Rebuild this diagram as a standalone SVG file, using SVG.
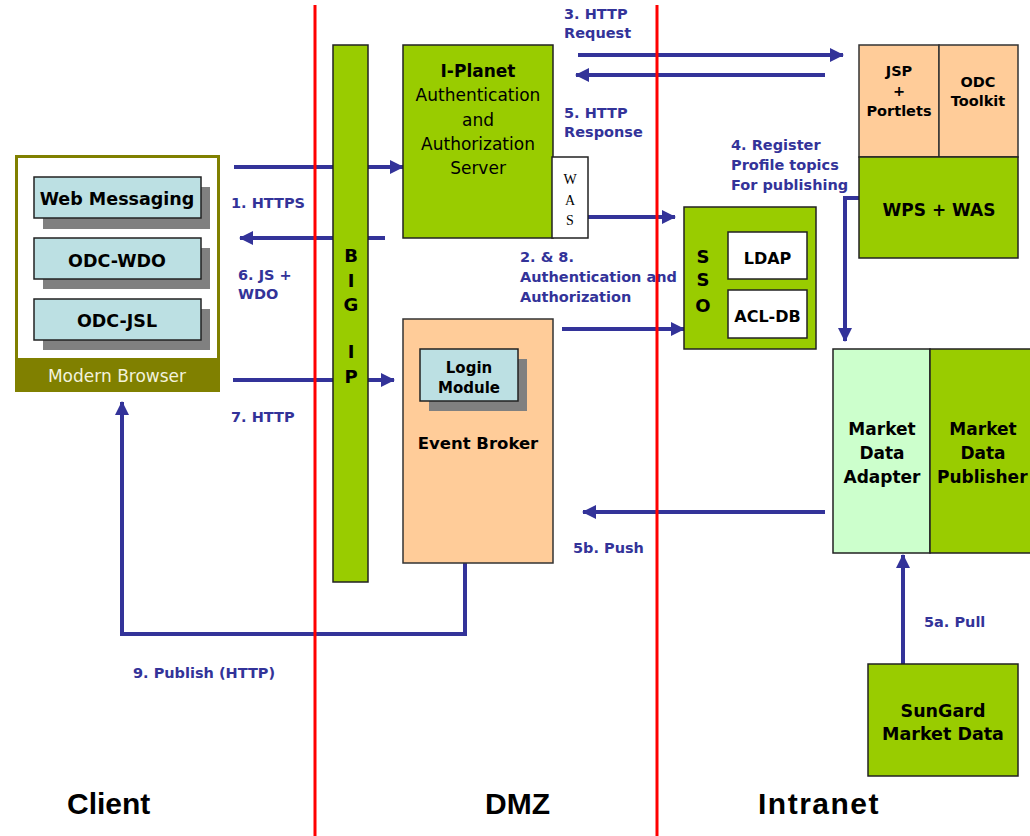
<svg xmlns="http://www.w3.org/2000/svg" width="1030" height="836" viewBox="0 0 1030 836">
<style>
.g{fill:#99cc00;stroke:#222;stroke-width:1.5}
.p{fill:#ffcc99;stroke:#333;stroke-width:1.5}
.c{fill:#bce0e3;stroke:#222;stroke-width:1.5}
.w{fill:#fff;stroke:#222;stroke-width:1.5}
.sh{fill:#808080}
.t{font-family:"DejaVu Sans",Verdana,sans-serif;fill:#000;text-anchor:middle}
.b{font-weight:bold}
.lb{font-family:"DejaVu Sans",Verdana,sans-serif;font-weight:bold;font-size:14.5px;fill:#333399}
.cn{fill:none;stroke:#333399;stroke-width:4}
.red{stroke:#ff0000;stroke-width:3}
.zone{font-family:"Liberation Sans",Arial,sans-serif;font-weight:bold;font-size:30px;fill:#000}
</style>
<defs>
<marker id="ah" markerUnits="userSpaceOnUse" markerWidth="14" markerHeight="14" refX="13" refY="7" orient="auto">
<path d="M0,0 L14,7 L0,14 z" fill="#333399"/>
</marker>
</defs>
<rect width="1030" height="836" fill="#fff"/>

<g id="connectors">
<line class="cn" x1="234" y1="167" x2="403" y2="167" marker-end="url(#ah)"/>
<line class="cn" x1="385" y1="238" x2="240" y2="238" marker-end="url(#ah)"/>
<line class="cn" x1="233" y1="380" x2="394" y2="380" marker-end="url(#ah)"/>
<line class="cn" x1="578" y1="55" x2="843" y2="55" marker-end="url(#ah)"/>
<line class="cn" x1="825" y1="75" x2="576" y2="75" marker-end="url(#ah)"/>
<line class="cn" x1="588" y1="217" x2="675" y2="217" marker-end="url(#ah)"/>
<line class="cn" x1="562" y1="329" x2="684" y2="329" marker-end="url(#ah)"/>
<polyline class="cn" points="860,198 845,198 845,341" marker-end="url(#ah)"/>
<line class="cn" x1="825" y1="512" x2="583" y2="512" marker-end="url(#ah)"/>
<line class="cn" x1="903" y1="665" x2="903" y2="555" marker-end="url(#ah)"/>
<polyline class="cn" points="465,563 465,634 122,634 122,402" marker-end="url(#ah)"/>
</g>

<g id="labels">
<text class="lb" x="564" y="19">3. HTTP</text>
<text class="lb" x="564" y="38">Request</text>
<text class="lb" x="564" y="118">5. HTTP</text>
<text class="lb" x="564" y="137">Response</text>
<text class="lb" x="731" y="150">4. Register</text>
<text class="lb" x="731" y="170">Profile topics</text>
<text class="lb" x="731" y="190">For publishing</text>
<text class="lb" x="231" y="208">1. HTTPS</text>
<text class="lb" x="238" y="280">6. JS +</text>
<text class="lb" x="238" y="299">WDO</text>
<text class="lb" x="520" y="262">2. &amp; 8.</text>
<text class="lb" x="520" y="282">Authentication and</text>
<text class="lb" x="520" y="302">Authorization</text>
<text class="lb" x="231" y="422">7. HTTP</text>
<text class="lb" x="573" y="553">5b. Push</text>
<text class="lb" x="924" y="627">5a. Pull</text>
<text class="lb" x="133" y="678">9. Publish (HTTP)</text>
</g>

<g id="browser">
<rect x="16.5" y="156.5" width="202" height="234" fill="#fff" stroke="#808000" stroke-width="3"/>
<rect x="15" y="358" width="205" height="34" fill="#808000"/>
<text class="t" x="117" y="382" font-size="17" fill="#f0f0d8" style="fill:#f2f2dc">Modern Browser</text>
</g>
<g id="web-messaging">
<rect class="sh" x="43" y="187" width="167" height="42"/>
<rect class="c" x="34" y="177" width="167" height="41"/>
<text class="t b" x="117" y="205" font-size="17.5">Web Messaging</text>
</g>
<g id="odc-wdo">
<rect class="sh" x="43" y="248" width="167" height="41"/>
<rect class="c" x="34" y="238" width="167" height="41"/>
<text class="t b" x="117" y="267" font-size="17.5">ODC-WDO</text>
</g>
<g id="odc-jsl">
<rect class="sh" x="43" y="309" width="167" height="41"/>
<rect class="c" x="34" y="299" width="167" height="41"/>
<text class="t b" x="117" y="327" font-size="17.5">ODC-JSL</text>
</g>

<g id="big-ip">
<rect class="g" x="333" y="45" width="35" height="537"/>
<text class="t b" x="351" y="262" font-size="18">B</text>
<text class="t b" x="351" y="287" font-size="18">I</text>
<text class="t b" x="351" y="311" font-size="18">G</text>
<text class="t b" x="351" y="358" font-size="18">I</text>
<text class="t b" x="351" y="383" font-size="18">P</text>
</g>

<g id="i-planet">
<rect class="g" x="403" y="45" width="150" height="193"/>
<text class="t b" x="478" y="77" font-size="17">I-Planet</text>
<text class="t" x="478" y="101" font-size="17">Authentication</text>
<text class="t" x="478" y="126" font-size="17">and</text>
<text class="t" x="478" y="150" font-size="17">Authorization</text>
<text class="t" x="478" y="174" font-size="17">Server</text>
</g>
<g id="was">
<rect class="w" x="552" y="157" width="36" height="81"/>
<text x="570" y="184" font-family="'Liberation Serif','Times New Roman',serif" font-size="14" text-anchor="middle">W</text>
<text x="570" y="205" font-family="'Liberation Serif','Times New Roman',serif" font-size="14" text-anchor="middle">A</text>
<text x="570" y="225" font-family="'Liberation Serif','Times New Roman',serif" font-size="14" text-anchor="middle">S</text>
</g>

<g id="event-broker">
<rect class="p" x="403" y="319" width="150" height="244"/>
<text class="t b" x="478" y="449" font-size="16.5">Event Broker</text>
</g>
<g id="login-module">
<rect class="sh" x="429" y="359" width="98" height="52"/>
<rect class="c" x="420" y="349" width="98" height="52"/>
<text class="t b" x="469" y="373" font-size="15">Login</text>
<text class="t b" x="469" y="393" font-size="15">Module</text>
</g>

<g id="sso">
<rect class="g" x="684" y="207" width="132" height="142"/>
<text class="t b" x="703" y="263" font-size="18">S</text>
<text class="t b" x="703" y="286" font-size="18">S</text>
<text class="t b" x="703" y="312" font-size="18">O</text>
</g>
<g id="ldap">
<rect class="w" x="728" y="232" width="79" height="47"/>
<text class="t b" x="767.5" y="264" font-size="16">LDAP</text>
</g>
<g id="acl-db">
<rect class="w" x="728" y="290" width="79" height="48"/>
<text class="t b" x="767.5" y="322" font-size="16">ACL-DB</text>
</g>

<g id="jsp-portlets">
<rect class="p" x="859" y="45" width="80" height="112"/>
<text class="t b" x="899" y="76" font-size="14.5">JSP</text>
<text class="t b" x="899" y="96" font-size="14.5">+</text>
<text class="t b" x="899" y="116" font-size="14.5">Portlets</text>
</g>
<g id="odc-toolkit">
<rect class="p" x="939" y="45" width="79" height="112"/>
<text class="t b" x="978" y="87" font-size="14.5">ODC</text>
<text class="t b" x="978" y="106" font-size="14.5">Toolkit</text>
</g>
<g id="wps-was">
<rect class="g" x="859" y="157" width="159" height="101"/>
<text class="t b" x="939" y="216" font-size="17">WPS + WAS</text>
</g>

<g id="market-data-adapter">
<rect x="833" y="349" width="97" height="204" fill="#ccffcc" stroke="#222" stroke-width="1.5"/>
<text class="t b" x="882" y="435" font-size="17">Market</text>
<text class="t b" x="882" y="459" font-size="17">Data</text>
<text class="t b" x="882" y="483" font-size="17">Adapter</text>
</g>
<g id="market-data-publisher">
<rect class="g" x="930" y="349" width="105" height="204"/>
<text class="t b" x="983" y="435" font-size="17">Market</text>
<text class="t b" x="983" y="459" font-size="17">Data</text>
<text class="t b" x="937" y="483" font-size="17" text-anchor="start" style="text-anchor:start">Publisher</text>
</g>

<g id="sungard">
<rect class="g" x="868" y="664" width="150" height="112"/>
<text class="t b" x="943" y="717" font-size="17.5">SunGard</text>
<text class="t b" x="943" y="740" font-size="17.5">Market Data</text>
</g>

<g id="zones">
<line class="red" x1="315" y1="5" x2="315" y2="836"/>
<line class="red" x1="657" y1="5" x2="657" y2="836"/>
<text class="zone" x="67" y="814">Client</text>
<text class="zone" x="485" y="814">DMZ</text>
<text class="zone" x="758" y="814" letter-spacing="1.5">Intranet</text>
</g>
</svg>
